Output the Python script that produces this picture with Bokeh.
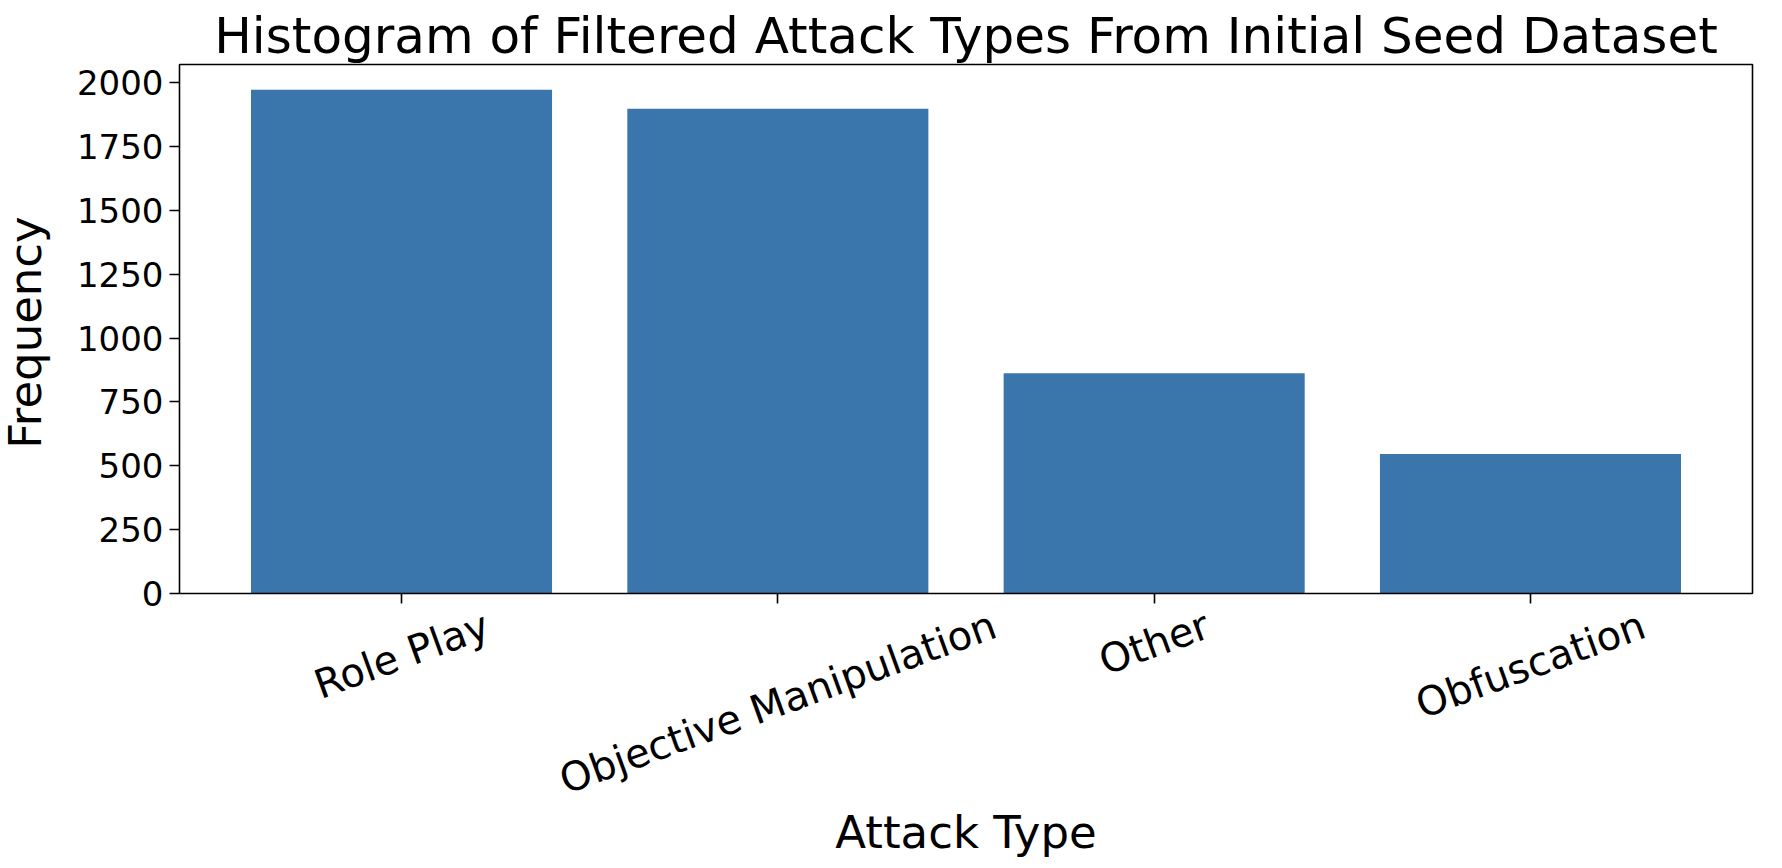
import math
from bokeh.plotting import figure
from bokeh.models import (Range1d, FixedTicker, ColumnDataSource, LabelSet, Label,
                          LinearAxis, BoxAnnotation)
from bokeh.embed import file_html
from bokeh.resources import INLINE
from bokeh.core.properties import value

# ---- data ----
categories = ["Role Play", "Objective Manipulation", "Other", "Obfuscation"]
frequency = [1972, 1897, 862, 546]
y_ticks = [0, 250, 500, 750, 1000, 1250, 1500, 1750, 2000]

TITLE = "Histogram of Filtered Attack Types From Initial Seed Dataset"
X_LABEL = "Attack Type"
Y_LABEL = "Frequency"

# ---- layout / style (pixels) ----
W, H = 1782, 868
AX_L, AX_R, AX_T, AX_B = 179, 1752, 64, 593      # axes box inside the canvas
FONT = "DejaVu Sans"
TITLE_FS, LABEL_FS, XTICK_FS, YTICK_FS = 50, 45, 40, 34
BAR_COLOR = "#3a75ab"
ANGLE = math.radians(20)
BAR_W = 0.8
LW = 1.6

# approximate DejaVu Sans advance widths (em) used to centre rotated labels like matplotlib
ADV = {"R": .695, "o": .612, "l": .278, "e": .615, " ": .318, "P": .603, "a": .613,
       "y": .592, "O": .787, "b": .635, "j": .278, "c": .550, "t": .392, "i": .278,
       "v": .592, "M": .863, "n": .634, "p": .635, "u": .634, "h": .634, "r": .411,
       "f": .352, "s": .521}

n = len(categories)
xs = list(range(n))

# data limits of the axes box (matplotlib-style 5% margins)
xpad = 0.05 * (n - 1 + BAR_W)
x0, x1 = -BAR_W / 2 - xpad, n - 1 + BAR_W / 2 + xpad
y0, y1 = 0, max(frequency) * 1.05

# extend ranges so the frame fills the whole canvas and the box lands at AX_*
kx = (AX_R - AX_L) / (x1 - x0)
ky = (AX_B - AX_T) / (y1 - y0)
x_range = Range1d(x0 - AX_L / kx, x1 + (W - AX_R) / kx)
y_range = Range1d(y0 - (H - AX_B) / ky, y1 + AX_T / ky)

p = figure(width=W, height=H, output_backend="svg", toolbar_location=None,
           x_range=x_range, y_range=y_range,
           x_axis_location=None, y_axis_location=None,
           min_border=0)
p.grid.visible = False
p.outline_line_color = None
p.background_fill_color = "white"
p.border_fill_color = "white"

src = ColumnDataSource(dict(x=xs, top=frequency))
p.vbar(x="x", top="top", width=BAR_W, bottom=0, source=src,
       fill_color=BAR_COLOR, line_color=None)

# axes box
p.add_layout(BoxAnnotation(left=x0, right=x1, bottom=y0, top=y1,
                           fill_alpha=0, fill_color=None,
                           line_color="black", line_alpha=1.0, line_width=LW))

# y axis pinned to the left edge of the box
yax = LinearAxis(fixed_location=x0, ticker=FixedTicker(ticks=y_ticks))
yax.axis_line_color = None
yax.major_tick_line_color = "black"
yax.major_tick_line_width = LW
yax.major_tick_out = 10
yax.major_tick_in = 0
yax.minor_tick_line_color = None
yax.major_label_text_font = FONT
yax.major_label_text_font_size = f"{YTICK_FS}px"
yax.major_label_text_color = "black"
yax.major_label_standoff = 6
p.add_layout(yax, "left")

# x axis (ticks only) pinned to the bottom of the box
xax = LinearAxis(fixed_location=y0, ticker=FixedTicker(ticks=xs))
xax.axis_line_color = None
xax.major_tick_line_color = "black"
xax.major_tick_line_width = LW
xax.major_tick_out = 10
xax.major_tick_in = 0
xax.minor_tick_line_color = None
xax.major_label_text_color = None
p.add_layout(xax, "below")

# rotated category labels centred on each tick
TOP_GAP = 8
ys = []
for c in categories:
    L = XTICK_FS * sum(ADV.get(ch, 0.6) for ch in c)
    hb = 1.164 * XTICK_FS
    ext = L * math.sin(ANGLE) + hb * math.cos(ANGLE)
    ys.append(H - (AX_B + TOP_GAP + ext / 2))
lab_src = ColumnDataSource(dict(x=xs, y=ys, text=categories))
p.add_layout(LabelSet(x="x", y="y", text="text", source=lab_src, y_units="screen",
                      angle=ANGLE, text_align="center", text_baseline="middle",
                      text_font=value(FONT), text_font_size=f"{XTICK_FS}px",
                      text_color="black"))

cx = (AX_L + AX_R) / 2
p.add_layout(Label(x=cx, y=H - 832, x_units="screen", y_units="screen", text=X_LABEL,
                   text_align="center", text_baseline="middle", text_font=FONT,
                   text_font_size=f"{LABEL_FS}px", text_color="black"))
p.add_layout(Label(x=25, y=H - 332, x_units="screen", y_units="screen", text=Y_LABEL,
                   angle=math.pi / 2, text_align="center", text_baseline="middle",
                   text_font=FONT, text_font_size=f"{LABEL_FS}px", text_color="black"))
p.add_layout(Label(x=cx, y=H - 35, x_units="screen", y_units="screen", text=TITLE,
                   text_align="center", text_baseline="alphabetic", text_font=FONT,
                   text_font_size=f"{TITLE_FS}px", text_color="black"))

open("out.html", "w").write(file_html(p, INLINE))
